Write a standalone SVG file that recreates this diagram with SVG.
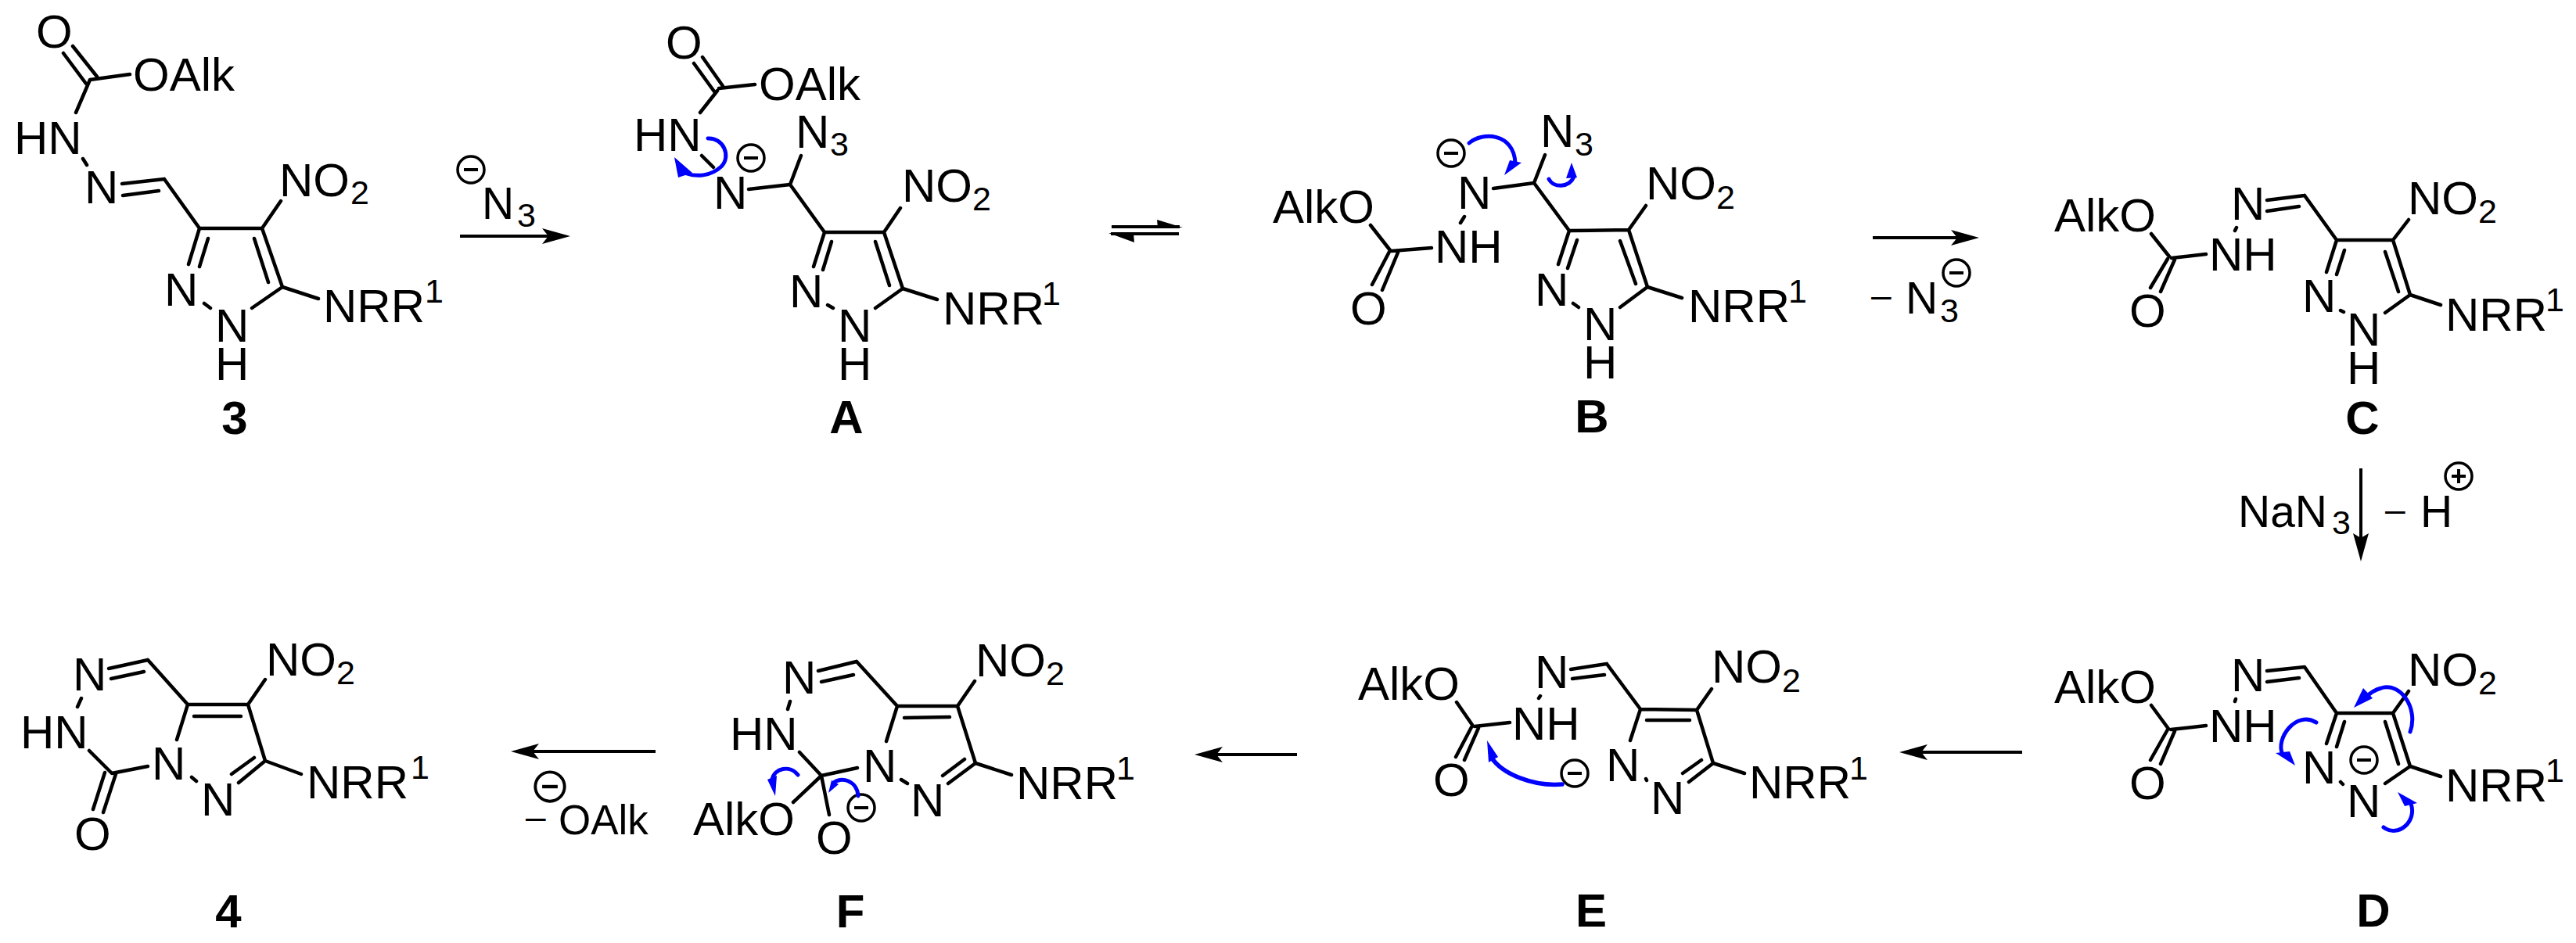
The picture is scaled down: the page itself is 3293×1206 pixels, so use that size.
<svg xmlns="http://www.w3.org/2000/svg" width="3293" height="1206" viewBox="0 0 3293 1206">
<style>
text{font-family:"Liberation Sans",Arial,sans-serif;fill:#000}
.t{font-size:60px}
.r{font-size:57px}
.s{font-size:43px}
.b{font-size:60px;font-weight:700;text-anchor:middle}
.bond{fill:none;stroke:#000;stroke-width:4.5;stroke-linecap:round;stroke-linejoin:round}
.arr{fill:none;stroke:#000;stroke-width:4}
.curl{fill:none;stroke:#0000ff;stroke-width:5;stroke-linecap:round}
.head{fill:#0000ff}
.chg{fill:none;stroke:#000;stroke-width:3.5}
</style>
<defs>
<marker id="ah" markerUnits="userSpaceOnUse" viewBox="0 0 36 20" refX="20" refY="10" markerWidth="36" markerHeight="20" orient="auto"><path d="M0,0L36,10L0,20L8,10z" fill="#000"/></marker>
<marker id="av" markerUnits="userSpaceOnUse" viewBox="0 0 36 20" refX="20" refY="10" markerWidth="36" markerHeight="20" orient="auto"><path d="M0,0L36,10L0,20L6,10z" fill="#000"/></marker>
<g id="neg"><ellipse class="chg" cx="0" cy="0" rx="17" ry="17"/><path d="M-9,0H9" stroke="#000" stroke-width="4"/></g>
<g id="pos"><ellipse class="chg" cx="0" cy="0" rx="17" ry="17"/><path d="M-9,0H9M0,-9V9" stroke="#000" stroke-width="4"/></g>
</defs>
<rect width="3293" height="1206" fill="#fff"/>

<g id="mol-3">
<path class="bond" d="M81,68L110,107M93,59L124,98M115,102L166,95M115,102L97,144M106,203L111,211M156,235L210,229M157,250L203,244M210,229L255,292L335,292L361,367L322,394M335,292L359,257M325,305L343,361M361,367L407,382M261,388L269,394M255,292L241,338M266,305L255,341"/>
<text class="t" x="46" y="61">O</text><text class="t" x="170" y="116">OAlk</text><text class="t" x="18" y="197">HN</text><text class="t" x="108" y="260">N</text>
<text class="t" x="357" y="251">NO</text><text class="s" x="448" y="261">2</text>
<text class="t" x="413" y="412">NRR</text><text class="s" x="543" y="387">1</text>
<text class="t" x="210" y="391">N</text><text class="t" x="275" y="437">N</text><text class="t" x="275" y="486">H</text>
<text class="b" x="300" y="555">3</text>
</g>

<g id="mol-A">
<path class="bond" d="M887,81L913,117M898,73L924,110M919,113L965,108M917,116L895,144M897,199L912,214M957,242L1010,236L1024,199M1010,236L1054,297L1130,297L1154,369L1119,394M1130,297L1151,266M1119,309L1137,365M1154,369L1198,383M1058,390L1065,394M1054,297L1040,341M1063,309L1052,345"/>
<text class="t" x="851" y="75">O</text><text class="t" x="970" y="128">OAlk</text><text class="t" x="810" y="193">HN</text><text class="t" x="912" y="267">N</text>
<use href="#neg" x="960" y="202"/>
<text class="t" x="1017" y="189">N</text><text class="s" x="1061" y="199">3</text>
<text class="t" x="1153" y="258">NO</text><text class="s" x="1243" y="269">2</text>
<text class="t" x="1205" y="415">NRR</text><text class="s" x="1332" y="390">1</text>
<text class="t" x="1009" y="393">N</text><text class="t" x="1071" y="437">N</text><text class="t" x="1071" y="486">H</text>
<text class="b" x="1082" y="554">A</text>
</g>

<g id="mol-B">
<path class="bond" d="M1752,288L1777,320M1779,321L1830,317M1776,322L1754,364M1787,323L1767,371M1872,277L1867,285M1909,241L1961,234L1975,198M1961,234L2006,295L2082,294L2106,367L2071,393M2082,294L2104,263M2071,308L2091,363M2106,367L2150,381M2011,388L2018,393M2006,295L1992,338M2016,307L2004,343"/>
<text class="t" x="1627" y="285">AlkO</text><text class="t" x="1834" y="336">NH</text><text class="t" x="1726" y="415">O</text><text class="t" x="1863" y="267">N</text>
<use href="#neg" x="1855" y="196"/>
<text class="t" x="1969" y="188">N</text><text class="s" x="2013" y="199">3</text>
<text class="t" x="2104" y="255">NO</text><text class="s" x="2194" y="267">2</text>
<text class="t" x="2158" y="412">NRR</text><text class="s" x="2286" y="387">1</text>
<text class="t" x="1962" y="391">N</text><text class="t" x="2024" y="435">N</text><text class="t" x="2024" y="484">H</text>
<text class="b" x="2035" y="553">B</text>
</g>

<g id="mol-C">
<path class="bond" d="M2750,299L2773,328M2776,330L2820,325M2771,331L2749,368M2780,332L2762,373M2859,291L2857,295M2898,256L2946,250M2898,270L2939,264M2946,250L2987,307L3059,307L3081,377L3049,400M3059,307L3079,281M3049,322L3066,373M3081,377L3120,390M2992,397L2996,399M2987,307L2974,348M2997,320L2987,351"/>
<text class="t" x="2626" y="296">AlkO</text><text class="t" x="2824" y="346">NH</text><text class="t" x="2722" y="418">O</text><text class="t" x="2852" y="281">N</text>
<text class="t" x="3078" y="274">NO</text><text class="s" x="3168" y="285">2</text>
<text class="t" x="3126" y="423">NRR</text><text class="s" x="3254" y="398">1</text>
<text class="t" x="2943" y="399">N</text><text class="t" x="3000" y="442">N</text><text class="t" x="3000" y="491">H</text>
<text class="b" x="3020" y="555">C</text>
</g>

<g id="mol-D">
<path class="bond" d="M2750,902L2772,932M2775,933L2820,928M2771,933L2749,972M2780,935L2762,977M2858,894L2857,897M2898,858L2946,853M2898,872L2939,867M2946,853L2987,912L3059,912L3081,980L3049,1002M3059,912L3079,884M3049,923L3066,977M3081,980L3120,993M2992,1000L2995,1003M2987,912L2974,951M2997,923L2987,955"/>
<text class="t" x="2626" y="899">AlkO</text><text class="t" x="2824" y="949">NH</text><text class="t" x="2722" y="1022">O</text><text class="t" x="2852" y="884">N</text>
<text class="t" x="3078" y="877">NO</text><text class="s" x="3168" y="888">2</text>
<text class="t" x="3126" y="1025">NRR</text><text class="s" x="3254" y="1000">1</text>
<text class="t" x="2943" y="1002">N</text><text class="t" x="3000" y="1045">N</text>
<use href="#neg" x="3022" y="972"/>
<text class="b" x="3034" y="1185">D</text>
</g>

<g id="mol-E">
<path class="bond" d="M1862,898L1882,927M1885,929L1930,924M1881,930L1861,968M1890,931L1872,972M1969,890L1967,893M2008,856L2054,849M2010,868L2051,863M2054,849L2097,907L2169,908L2190,976L2159,1000M2105,921L2160,921M2169,908L2188,881M2190,976L2230,989M2175,972L2151,989M2104,996L2105,998M2097,907L2084,947"/>
<text class="t" x="1736" y="895">AlkO</text><text class="t" x="1933" y="946">NH</text><text class="t" x="1832" y="1018">O</text><text class="t" x="1962" y="880">N</text>
<text class="t" x="2188" y="873">NO</text><text class="s" x="2278" y="885">2</text>
<text class="t" x="2236" y="1021">NRR</text><text class="s" x="2364" y="997">1</text>
<text class="t" x="2053" y="999">N</text><text class="t" x="2110" y="1041">N</text>
<use href="#neg" x="2013" y="989"/>
<text class="b" x="2034" y="1185">E</text>
</g>

<g id="mol-F">
<path class="bond" d="M1046,858L1095,846M1050,872L1091,863M1095,846L1147,903L1224,903L1247,976L1212,1002M1156,918L1214,917M1224,903L1246,871M1247,976L1293,991M1233,971L1205,992M1152,997L1160,1002M1147,903L1133,948M1096,982L1050,992L1022,962M1010,897L1007,907M1050,992L1014,1026M1050,992L1060,1042"/>
<text class="t" x="1000" y="887">N</text><text class="t" x="933" y="959">HN</text><text class="t" x="886" y="1068">AlkO</text><text class="t" x="1043" y="1092">O</text>
<text class="t" x="1247" y="865">NO</text><text class="s" x="1337" y="876">2</text>
<text class="t" x="1299" y="1022">NRR</text><text class="s" x="1427" y="997">1</text>
<text class="t" x="1103" y="1000">N</text><text class="t" x="1164" y="1044">N</text>
<use href="#neg" x="1101" y="1033"/>
<text class="b" x="1087" y="1186">F</text>
</g>

<g id="mol-4">
<path class="bond" d="M139,855L189,844M142,868L184,859M189,844L240,901L317,901L339,973L305,1001M248,916L308,916M317,901L339,869M339,973L385,990M325,969L296,990M245,994L251,999M240,901L226,946M189,980L143,989L114,960M104,893L99,904M134,988L119,1035M148,990L132,1039"/>
<text class="t" x="93" y="883">N</text><text class="t" x="26" y="957">HN</text><text class="t" x="95" y="1087">O</text>
<text class="t" x="340" y="864">NO</text><text class="s" x="430" y="875">2</text>
<text class="t" x="392" y="1021">NRR</text><text class="s" x="525" y="996">1</text>
<text class="t" x="194" y="997">N</text><text class="t" x="257" y="1043">N</text>
<text class="b" x="292" y="1186">4</text>
</g>

<g id="connectors">
<line class="arr" x1="588" y1="302" x2="713" y2="302" marker-end="url(#ah)"/>
<line class="arr" x1="2394" y1="304" x2="2514" y2="304" marker-end="url(#ah)"/>
<line class="arr" x1="3018" y1="599" x2="3018" y2="702" stroke-width="3" marker-end="url(#av)"/>
<line class="arr" x1="2585" y1="962" x2="2444" y2="962" marker-end="url(#ah)"/>
<line class="arr" x1="1658" y1="965" x2="1543" y2="965" marker-end="url(#ah)"/>
<line class="arr" x1="838" y1="961" x2="669" y2="961" marker-end="url(#ah)"/>
<path class="arr" d="M1421,290H1508"/><path d="M1479,281L1512,291L1480,291z" fill="#000"/>
<path class="arr" d="M1507,299H1420"/><path d="M1417,298L1450,310L1449,298z" fill="#000"/>

<path class="curl" d="M905,177C925,176 935,200 922,213C908,226 890,226 878,222"/><path class="head" d="M862,201L867,227L885,221z"/>
<path class="curl" d="M1878,183C1895,168 1935,170 1937,208"/><path class="head" d="M1923,224L1945,208L1930,205z"/>
<path class="curl" d="M1980,229C1986,241 2006,240 2012,226"/><path class="head" d="M2009,208L2016,227L2002,228z"/>
<path class="curl" d="M3081,936C3092,905 3068,872 3044,880C3036,882 3030,886 3024,892"/><path class="head" d="M3009,905L3033,893L3021,880z"/>
<path class="curl" d="M2961,924C2935,908 2908,945 2918,965"/><path class="head" d="M2934,979L2909,963L2927,961z"/>
<path class="curl" d="M3047,1058C3066,1072 3090,1050 3082,1028"/><path class="head" d="M3065,1013L3090,1027L3074,1031z"/>
<path class="curl" d="M1997,1003C1960,1006 1920,990 1906,968" style="stroke-width:5.5"/><path class="head" d="M1901,947L1903,975L1915,968z"/>
<path class="curl" d="M1020,991C1010,978 990,982 987,997"/><path class="head" d="M991,1018L981,997L993,992z"/>
<path class="curl" d="M1097,1018C1096,998 1074,992 1065,1002"/><path class="head" d="M1059,1014L1063,998L1072,1003z"/>
</g>

<g id="reagents">
<use href="#neg" x="602" y="217"/>
<text class="r" x="616" y="280">N</text><text class="s" x="661" y="290">3</text>
<text class="r" x="2392" y="393" style="font-size:46px">–</text>
<text class="r" x="2436" y="401">N</text><text class="s" x="2480" y="412">3</text>
<use href="#neg" x="2501" y="349"/>
<text class="r" x="2861" y="674">NaN</text><text class="s" x="2981" y="683">3</text>
<text class="r" x="3049" y="667" style="font-size:46px">–</text>
<text class="r" x="3094" y="674">H</text>
<use href="#pos" x="3143" y="609"/>
<text class="r" x="672" y="1060" style="font-size:46px">–</text>
<text class="r" x="714" y="1067" style="font-size:53px">OAlk</text>
<use href="#neg" x="703" y="1006" transform="translate(703 1006) scale(1.1) translate(-703 -1006)"/>
</g>
</svg>
